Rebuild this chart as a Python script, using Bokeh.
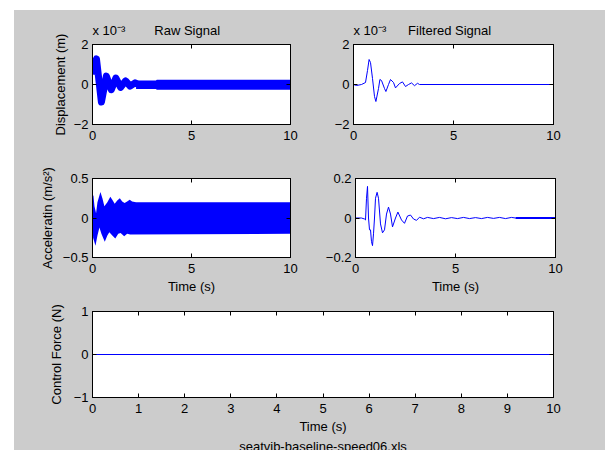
from bokeh.plotting import figure
from bokeh.layouts import row, column, Spacer
from bokeh.models import LinearAxis, FixedTicker, Title, Range1d
from bokeh.embed import file_html
from bokeh.resources import INLINE

# ---------------- data ----------------
x_ticks_small = [0, 5, 10]
x_ticks_bottom = [0, 1, 2, 3, 4, 5, 6, 7, 8, 9, 10]

# Raw displacement (units of 1e-3 m): centre of thick oscillating trace
raw_disp_t = [0, 0.05, 0.2, 0.45, 0.7, 0.95, 1.18, 1.42, 1.67, 1.9, 2.15, 2.3]
raw_disp_c = [0.5, 0.9, 1.28, -0.88, 0.42, -0.26, 0.32, -0.14, 0.18, -0.08, 0.08, 0.0]
# Raw displacement: dense band in the tail (units of 1e-3 m)
raw_disp_band_t = [2.2, 3.2, 3.25, 10]
raw_disp_band_hi = [0.2, 0.2, 0.24, 0.24]
raw_disp_band_lo = [-0.22, -0.22, -0.26, -0.26]

# Filtered displacement (units of 1e-3 m)
filt_disp_t = [0, 0.15, 0.4, 0.6, 0.7, 0.78, 0.85, 0.95, 1.05, 1.12, 1.25, 1.32, 1.4, 1.55,
               1.62, 1.75, 1.85, 2.0, 2.1, 2.3, 2.45, 2.6, 2.75, 2.9, 3.05, 3.2, 3.3, 10]
filt_disp_v = [0, -0.05, 0, 0.1, 0.7, 1.25, 1.1, 0.3, -0.6, -0.85, -0.2, 0.25, 0.2, -0.2,
               -0.35, 0, 0.25, 0.1, -0.17, 0.05, 0.13, -0.1, 0, 0.08, -0.06, 0.06, 0, 0]

# Raw acceleration (m/s^2): envelope of the dense oscillation
raw_acc_hi_t = [0, 0.05, 0.1, 0.18, 0.25, 0.4, 0.5, 0.6, 0.75, 0.9, 1.0, 1.12, 1.25, 1.38,
                1.5, 1.62, 1.75, 1.88, 2.0, 2.2, 10]
raw_acc_hi = [0.30, 0.28, 0.15, 0.06, 0.2, 0.33, 0.25, 0.15, 0.2, 0.27, 0.23, 0.18, 0.22, 0.25,
              0.21, 0.19, 0.21, 0.23, 0.21, 0.2, 0.2]
raw_acc_lo_t = [0, 0.03, 0.15, 0.25, 0.35, 0.45, 0.62, 0.75, 0.85, 1.0, 1.15, 1.3, 1.42, 1.6,
                1.75, 1.9, 10]
raw_acc_lo = [0.0, -0.25, -0.35, -0.22, -0.12, -0.2, -0.3, -0.22, -0.18, -0.22, -0.26, -0.2,
              -0.19, -0.23, -0.2, -0.21, -0.2]

# Filtered acceleration (m/s^2)
filt_acc_t = [0, 0.3, 0.45, 0.5, 0.55, 0.6, 0.65, 0.7, 0.75, 0.8, 0.85, 0.9, 0.95, 1.0, 1.08,
              1.15, 1.25, 1.35, 1.45, 1.55, 1.65, 1.75, 1.85, 2.0, 2.12, 2.3, 2.45, 2.6, 2.75,
              2.9, 3.05, 3.2, 3.4, 3.6, 3.9, 4.2, 4.5, 4.8, 5.1, 5.4, 5.7, 6.0, 6.3, 6.6, 6.9,
              7.2, 7.5, 7.8, 8.0]
filt_acc_v = [0, 0, -0.005, -0.01, 0.1, 0.16, 0.0, -0.06, -0.06, -0.12, -0.14, -0.08, 0.0, 0.1,
              0.13, 0.1, -0.03, -0.075, -0.06, 0.02, 0.055, 0.02, -0.045, 0, 0.03, -0.01, -0.027,
              0.01, 0.015, -0.005, -0.012, 0.004, -0.004, 0.003, -0.003, 0.003, -0.004, 0.002,
              -0.003, 0.003, -0.003, 0.002, -0.003, 0.003, -0.002, 0.003, -0.003, 0.003, 0]
filt_acc_tail_t = [8.0, 10]
filt_acc_tail_v = [0, 0]

# Control force (N)
force_t = [0, 10]
force_v = [0, 0]

# ---------------- styling ----------------
GRAY = "#cccccc"
BLUE = "#0000ff"
FONT = "Liberation Sans"
FS = "13px"
NB = "\u00a0"
EXP = "x 10\u207b\u00b3"


def style_axis(ax, ticks, label=None, label_standoff=5, tick_standoff=4):
    ax.ticker = FixedTicker(ticks=ticks)
    ax.major_tick_in = 4
    ax.major_tick_out = 0
    ax.minor_tick_line_color = None
    ax.axis_line_color = "black"
    ax.major_tick_line_color = "black"
    ax.major_label_text_font = FONT
    ax.major_label_text_font_size = FS
    ax.major_label_text_color = "black"
    ax.major_label_standoff = tick_standoff
    if label:
        ax.axis_label = label
        ax.axis_label_text_font = FONT
        ax.axis_label_text_font_size = FS
        ax.axis_label_text_font_style = "normal"
        ax.axis_label_text_color = "black"
        ax.axis_label_standoff = label_standoff


def mirror_axis(ticks):
    ax = LinearAxis(ticker=FixedTicker(ticks=ticks))
    ax.major_tick_in = 4
    ax.major_tick_out = 0
    ax.minor_tick_line_color = None
    ax.axis_line_color = "black"
    ax.major_label_text_font_size = "0px"
    ax.major_label_standoff = 0
    return ax


def make_fig(fw, fh, bl, br, bt, bb, yr, xticks, yticks, xlabel=None, ylabel=None,
             title=None, ylabel_standoff=5, xlabel_standoff=4):
    p = figure(frame_width=fw, frame_height=fh,
               x_range=Range1d(0, 10), y_range=Range1d(*yr),
               min_border_left=bl, min_border_right=br, min_border_top=bt, min_border_bottom=bb,
               output_backend="svg", toolbar_location=None,
               border_fill_color=GRAY, background_fill_color="white",
               outline_line_color="black", outline_line_width=1)
    p.grid.visible = False
    style_axis(p.xaxis[0], xticks, xlabel, xlabel_standoff, tick_standoff=6)
    style_axis(p.yaxis[0], yticks, ylabel, ylabel_standoff, tick_standoff=4)
    p.add_layout(mirror_axis(xticks), "above")
    p.add_layout(mirror_axis(yticks), "right")
    if title:
        p.title.text = title
        p.title.align = "left"
        p.title.standoff = 13
        p.title.text_font = FONT
        p.title.text_font_size = FS
        p.title.text_font_style = "normal"
        p.title.text_color = "black"
    return p


# Row 1
pA = make_fig(198, 80, 78, 32, 34, 26, (-2, 2), x_ticks_small, [-2, 0, 2],
              ylabel="Displacement (m)", title=EXP + NB * 8 + "Raw Signal", ylabel_standoff=3)
pA.line(raw_disp_t, raw_disp_c, line_color=BLUE, line_width=7, line_join="round")
pA.varea(x=raw_disp_band_t, y1=raw_disp_band_lo, y2=raw_disp_band_hi, fill_color=BLUE)

pB = make_fig(200, 80, 31, 52, 34, 26, (-2, 2), x_ticks_small, [-2, 0, 2],
              title=EXP + NB * 6 + "Filtered Signal")
pB.line(filt_disp_t, filt_disp_v, line_color=BLUE, line_width=1)

# Row 2
pC = make_fig(198, 79, 78, 32, 28, 40, (-0.5, 0.5), x_ticks_small, [-0.5, 0, 0.5],
              xlabel="Time (s)", ylabel="Acceleratin (m/s²)", ylabel_standoff=5,
              xlabel_standoff=3)
pC.varea(x=raw_acc_hi_t, y1=[0] * len(raw_acc_hi_t), y2=raw_acc_hi, fill_color=BLUE)
pC.varea(x=raw_acc_lo_t, y1=raw_acc_lo, y2=[0] * len(raw_acc_lo_t), fill_color=BLUE)

pD = make_fig(200, 79, 31, 52, 28, 40, (-0.2, 0.2), x_ticks_small, [-0.2, 0, 0.2],
              xlabel="Time (s)", xlabel_standoff=3)
pD.line(filt_acc_t, filt_acc_v, line_color=BLUE, line_width=1)
pD.line(filt_acc_tail_t, filt_acc_tail_v, line_color=BLUE, line_width=2)

# Row 3
pE = make_fig(461, 86, 78, 52, 14, 53, (-1, 1), x_ticks_bottom, [-1, 0, 1],
              xlabel="Time (s)", ylabel="Control Force (N)", ylabel_standoff=7,
              xlabel_standoff=3)
pE.line(force_t, force_v, line_color=BLUE, line_width=1)
pE.add_layout(Title(text="seatvib-baseline-speed06.xls", align="center", standoff=0,
                    text_font=FONT, text_font_size=FS, text_font_style="normal",
                    text_color="black"), "below")

r1 = row(pA, pB, styles={"background-color": GRAY})
r2 = row(pC, pD, styles={"background-color": GRAY})
grid = column(r1, r2, pE, styles={"background-color": GRAY})
layout = column(Spacer(height=10, width=605), row(Spacer(width=14, height=440), grid))

open("out.html", "w").write(file_html(layout, INLINE))
